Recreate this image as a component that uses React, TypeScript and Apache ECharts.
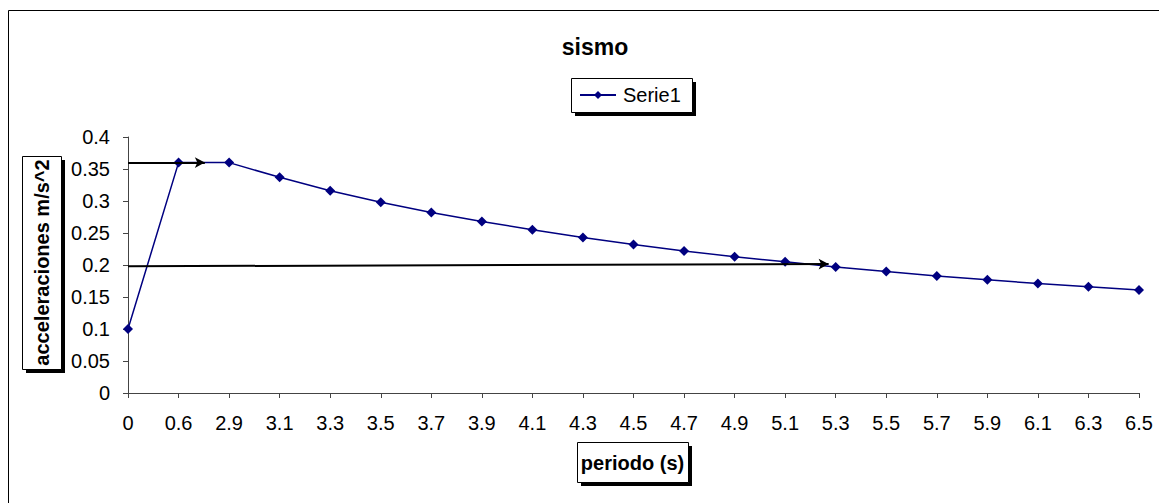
import React, { useEffect, useRef } from "react";
import * as echarts from "echarts";

const categories = ["0", "0.6", "2.9", "3.1", "3.3", "3.5", "3.7", "3.9", "4.1", "4.3", "4.5", "4.7", "4.9", "5.1", "5.3", "5.5", "5.7", "5.9", "6.1", "6.3", "6.5"];
const serie1 = [0.1, 0.36, 0.36, 0.337, 0.316, 0.298, 0.282, 0.268, 0.255, 0.243, 0.232, 0.222, 0.213, 0.205, 0.197, 0.19, 0.183, 0.177, 0.171, 0.166, 0.161];
const yTicks = [0, 0.05, 0.1, 0.15, 0.2, 0.25, 0.3, 0.35, 0.4];
// arrows: [startIndex, startValue, endIndex, endValue]
const arrow1 = [0, 0.36, 1.52, 0.36];
const arrow2 = [0, 0.198, 13.86, 0.2015];

const FONT = "'Liberation Sans', Arial, sans-serif";

export default function App() {
  const ref = useRef<HTMLDivElement>(null);
  useEffect(() => {
    if (!ref.current) return;
    const chart = echarts.init(ref.current, null, { renderer: "svg" });
    const boxWithShadow = (x: number, y: number, w: number, h: number, off: number) => [
      { type: "rect", z: 1, shape: { x: x + off, y: y + off, width: w, height: h }, style: { fill: "#000" } },
      { type: "rect", z: 2, shape: { x: x + 0.5, y: y + 0.5, width: w, height: h }, style: { fill: "#fff", stroke: "#000", lineWidth: 1 } },
    ];
    chart.setOption({
      animation: false,
      backgroundColor: "#fff",
      textStyle: { fontFamily: FONT },
      title: {
        text: "sismo",
        left: 582,
        top: 22,
        textAlign: "center",
        textStyle: { fontSize: 23, fontWeight: "bold", color: "#000", fontFamily: FONT },
      },
      legend: {
        data: ["Serie1"],
        left: 571,
        top: 77,
        padding: 0,
        itemWidth: 36,
        itemHeight: 10,
        itemGap: 4,
        z: 10,
        textStyle: { fontSize: 20, color: "#000", fontFamily: FONT, padding: [0, 0, 0, 2] },
      },
      graphic: [
        { type: "rect", z: 0, silent: true, shape: { x: 0.5, y: 2.5, width: 1400, height: 800 }, style: { fill: "none", stroke: "#000", lineWidth: 1 } },
        ...boxWithShadow(563, 70, 121, 34, 4),
        ...boxWithShadow(14, 148, 39, 213, 4),
        ...boxWithShadow(569, 434, 111, 40, 4),
        {
          type: "text", z: 3, x: 33.5, y: 254.5, rotation: Math.PI / 2,
          style: { text: "acceleraciones m/s^2", font: `bold 20px ${FONT}`, fill: "#000", align: "center", verticalAlign: "middle" },
        },
        {
          type: "text", z: 3, x: 624.5, y: 455,
          style: { text: "periodo (s)", font: `bold 20px ${FONT}`, fill: "#000", align: "center", verticalAlign: "middle" },
        },
      ],
      grid: { left: 120, top: 129, width: 1011, height: 256, containLabel: false },
      xAxis: [
        {
          type: "category",
          data: categories,
          boundaryGap: false,
          axisLine: { lineStyle: { color: "#444", width: 1 } },
          axisTick: { show: true, inside: false, length: 5, alignWithLabel: true, lineStyle: { color: "#444" } },
          axisLabel: { color: "#000", fontSize: 20, margin: 20, interval: 0, fontFamily: FONT },
          splitLine: { show: false },
        },
        { type: "value", min: 0, max: 20, show: false },
      ],
      yAxis: {
        type: "value",
        min: 0,
        max: 0.4,
        interval: 0.05,
        axisLine: { show: true, lineStyle: { color: "#444", width: 1 } },
        axisTick: { show: true, length: 5, lineStyle: { color: "#444" } },
        axisLabel: { color: "#000", fontSize: 20, margin: 18, fontFamily: FONT, formatter: (v: number) => String(yTicks.find((t) => Math.abs(t - v) < 1e-9) ?? v) },
        splitLine: { show: false },
      },
      series: [
        {
          name: "Serie1",
          type: "line",
          data: serie1,
          color: "#000080",
          symbol: "diamond",
          symbolSize: 10,
          lineStyle: { color: "#000080", width: 1.5 },
          itemStyle: { color: "#000080" },
          z: 3,
        },
        {
          name: "arrows",
          type: "line",
          xAxisIndex: 1,
          data: [],
          z: 4,
          markLine: {
            silent: true,
            symbol: ["none", "arrow"],
            symbolSize: [8, 10],
            label: { show: false },
            lineStyle: { color: "#000", width: 2, type: "solid" },
            data: [
              [{ coord: [arrow1[0], arrow1[1]] }, { coord: [arrow1[2], arrow1[3]] }],
              [{ coord: [arrow2[0], arrow2[1]] }, { coord: [arrow2[2], arrow2[3]] }],
            ],
          },
        },
      ],
    });
    return () => chart.dispose();
  }, []);
  return <div ref={ref} style={{ width: 1159, height: 495 }} />;
}
